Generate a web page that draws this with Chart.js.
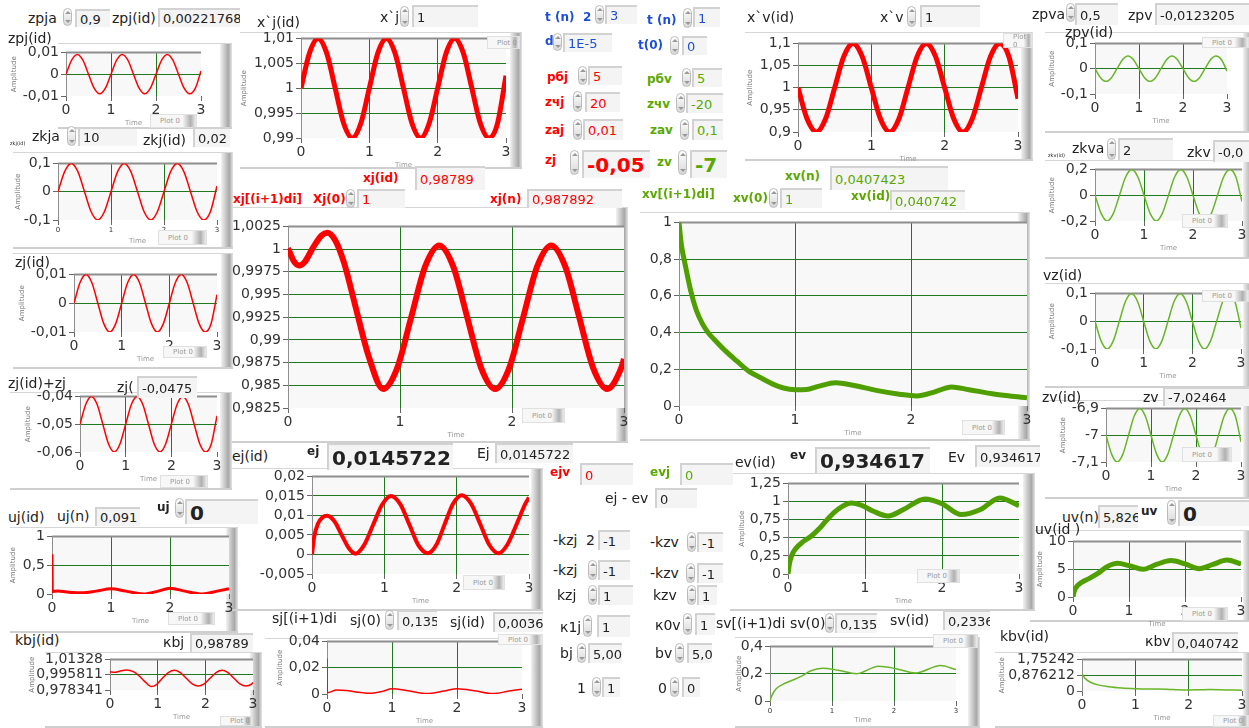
<!DOCTYPE html>
<html>
<head>
<meta charset="utf-8">
<script src="https://cdn.jsdelivr.net/npm/chart.js@4.4.1/dist/chart.umd.min.js"></script>
<style>
body{margin:0;background:#fff;overflow:hidden}
#panel{position:relative;width:1249px;height:728px;font-family:'DejaVu Sans',Verdana,sans-serif;color:#222;overflow:hidden}
.lb{position:absolute;font-size:14px;line-height:18px;white-space:nowrap;z-index:4}
.bx{position:absolute;background:#f4f4f4;border-top:2px solid #d2d2d2;border-left:2px solid #d2d2d2;box-sizing:border-box;font-size:13px;padding-left:3px;overflow:hidden;white-space:nowrap;z-index:4;display:flex;align-items:center}
.sp{position:absolute;width:9px;border:1px solid #bbb;border-radius:5px;background:linear-gradient(#fff,#d8d8d8);box-sizing:border-box;z-index:4}
.sp:before,.sp:after{content:'';position:absolute;left:1px;border-left:3px solid transparent;border-right:3px solid transparent}
.sp:before{top:2px;border-bottom:3px solid #999}
.sp:after{bottom:2px;border-top:3px solid #999}
.pn{position:absolute;border-top:1px solid #d6d6d6;border-bottom:2px solid #cfcfcf;box-sizing:border-box;z-index:1}
.pn:after{content:'';position:absolute;right:0;top:0;bottom:0;width:12px;background:linear-gradient(to right,#f2f2f2,#a8a8a8 70%,#e6e6e6)}
.lg{position:absolute;font-size:7px;color:#999;padding-left:9px;box-sizing:border-box;background:linear-gradient(to right,#f7f7f7 70%,#b0b0b0 88%,#eee);border:1px solid #e0e0e0;z-index:3;display:flex;align-items:center}
canvas{position:absolute;z-index:2}
.r{color:#ff0000}.g{color:#5aa800}.b{color:#1c4fd6}
.k{font-weight:bold;font-size:12px}
.big{font-size:20px;font-weight:bold}
.tiny{font-size:5px}
</style>
</head>
<body>
<div id="panel"></div>
<script>
// time axis shared by the sine-shaped plots
const t8 = [0, 0.125, 0.25, 0.375, 0.5, 0.625, 0.75, 0.875, 1, 1.125, 1.25, 1.375, 1.5, 1.625, 1.75, 1.875, 2, 2.125, 2.25, 2.375, 2.5, 2.625, 2.75, 2.875, 3];
const xTicks = [0, 1, 2, 3];

const zpjY = [0, 0.0064, 0.009, 0.0064, 0, -0.0064, -0.009, -0.0064, 0, 0.0064, 0.009, 0.0064, 0, -0.0064, -0.009, -0.0064, 0, 0.0064, 0.009, 0.0064, 0, -0.0064, -0.009, -0.0064, 0.0015];
const xjdY = [1, 1.0071, 1.01, 1.0071, 1, 0.9929, 0.99, 0.9929, 1, 1.0071, 1.01, 1.0071, 1, 0.9929, 0.99, 0.9929, 1, 1.0071, 1.01, 1.0071, 1, 0.9929, 0.99, 0.9929, 1.0025];
const zkjY = [0, 0.071, 0.1, 0.071, 0, -0.071, -0.1, -0.071, 0, 0.071, 0.1, 0.071, 0, -0.071, -0.1, -0.071, 0, 0.071, 0.1, 0.071, 0, -0.071, -0.1, -0.071, 0.02];
const zjY = [0, 0.0071, 0.01, 0.0071, 0, -0.0071, -0.01, -0.0071, 0, 0.0071, 0.01, 0.0071, 0, -0.0071, -0.01, -0.0071, 0, 0.0071, 0.01, 0.0071, 0, -0.0071, -0.01, -0.0071, 0.003];
const zjzY = [-0.05, -0.0429, -0.04, -0.0429, -0.05, -0.0571, -0.06, -0.0571, -0.05, -0.0429, -0.04, -0.0429, -0.05, -0.0571, -0.06, -0.0571, -0.05, -0.0429, -0.04, -0.0429, -0.05, -0.0571, -0.06, -0.0571, -0.047];
const xvdY = [1, 0.9293, 0.9, 0.9293, 1, 1.0707, 1.1, 1.0707, 1, 0.9293, 0.9, 0.9293, 1, 1.0707, 1.1, 1.0707, 1, 0.9293, 0.9, 0.9293, 1, 1.0707, 1.1, 1.0707, 0.975];
const zpvY = [0, -0.0354, -0.05, -0.0354, 0, 0.0354, 0.05, 0.0354, 0, -0.0354, -0.05, -0.0354, 0, 0.0354, 0.05, 0.0354, 0, -0.0354, -0.05, -0.0354, 0, 0.0354, 0.05, 0.0354, -0.01];
const zkvY = [0, -0.141, -0.2, -0.141, 0, 0.141, 0.2, 0.141, 0, -0.141, -0.2, -0.141, 0, 0.141, 0.2, 0.141, 0, -0.141, -0.2, -0.141, 0, 0.141, 0.2, 0.141, -0.05];
const vzY = [0, -0.0707, -0.1, -0.0707, 0, 0.0707, 0.1, 0.0707, 0, -0.0707, -0.1, -0.0707, 0, 0.0707, 0.1, 0.0707, 0, -0.0707, -0.1, -0.0707, 0, 0.0707, 0.1, 0.0707, -0.025];
const zvY = [-7, -7.0707, -7.1, -7.0707, -7, -6.9293, -6.9, -6.9293, -7, -7.0707, -7.1, -7.0707, -7, -6.9293, -6.9, -6.9293, -7, -7.0707, -7.1, -7.0707, -7, -6.9293, -6.9, -6.9293, -7.025];

const ujX = [0, 0.005, 0.1, 0.25, 0.5, 0.75, 1, 1.25, 1.55, 1.8, 2, 2.25, 2.55, 2.8, 3];
const ujY = [0.69, 0.045, 0.05, 0.035, 0.02, 0.05, 0.09, 0.05, 0.0, 0.05, 0.1, 0.05, 0.0, 0.05, 0.09];
const kbjX = [0, 0.1, 0.2, 0.35, 0.5, 0.6, 0.72, 0.87, 0.975, 1.1, 1.225, 1.35, 1.475, 1.6, 1.725, 1.85, 1.975, 2.1, 2.225, 2.35, 2.475, 2.6, 2.725, 2.85, 2.975, 3];
const kbjY = [0.999, 0.9985, 0.9998, 1.0012, 0.999, 0.995, 0.9885, 0.9822, 0.9845, 0.9917, 0.9981, 1.0008, 0.9981, 0.9917, 0.9853, 0.9828, 0.9853, 0.9917, 0.9981, 1.0008, 0.9981, 0.9917, 0.9853, 0.9828, 0.9853, 0.987];
const xjX = [0, 0.05, 0.1, 0.15, 0.225, 0.3, 0.35, 0.42, 0.5, 0.6, 0.725, 0.85, 0.975, 1.1, 1.225, 1.35, 1.475, 1.6, 1.725, 1.85, 1.975, 2.1, 2.225, 2.35, 2.475, 2.6, 2.725, 2.85, 2.975, 3];
const xjY = [1.0001, 0.9987, 0.9982, 0.9986, 1.0002, 1.0015, 1.0018, 1.001, 0.9985, 0.9938, 0.988, 0.9846, 0.9869, 0.9925, 0.9981, 1.0004, 0.9981, 0.9925, 0.9869, 0.9846, 0.9869, 0.9925, 0.9981, 1.0004, 0.9981, 0.9925, 0.9869, 0.9846, 0.9869, 0.9879];
const xvX = [0, 0.02, 0.05, 0.1, 0.15, 0.2, 0.25, 0.3, 0.4, 0.5, 0.6, 0.7, 0.8, 0.9, 1, 1.1, 1.2, 1.35, 1.5, 1.7, 1.9, 2.05, 2.2, 2.35, 2.5, 2.7, 2.85, 3];
const xvY = [1, 0.88, 0.78, 0.63, 0.52, 0.45, 0.4, 0.365, 0.3, 0.244, 0.19, 0.155, 0.122, 0.098, 0.089, 0.09, 0.107, 0.127, 0.113, 0.085, 0.064, 0.055, 0.076, 0.104, 0.089, 0.067, 0.055, 0.045];
const ejX = [0, 0.03, 0.08, 0.14, 0.21, 0.31, 0.41, 0.51, 0.6, 0.72, 0.845, 0.97, 1.09, 1.22, 1.345, 1.47, 1.6, 1.72, 1.835, 1.95, 2.07, 2.2, 2.325, 2.45, 2.58, 2.7, 2.83, 2.95, 3];
const ejY = [0, 0.0045, 0.0078, 0.0094, 0.0099, 0.0085, 0.005, 0.0016, 0.0002, 0.0024, 0.0076, 0.0128, 0.015, 0.0129, 0.0077, 0.0024, 0.0003, 0.0025, 0.0078, 0.013, 0.0152, 0.013, 0.0078, 0.0025, 0.0003, 0.0025, 0.0078, 0.013, 0.0146];
const sjX = [0, 0.005, 0.15, 0.3, 0.45, 0.65, 0.85, 1, 1.25, 1.53, 1.8, 2, 2.3, 2.55, 2.8, 3];
const sjY = [0.027, 0.001, 0.003, 0.0027, 0.0015, 0.0005, 0.002, 0.004, 0.0025, 0.0003, 0.0022, 0.004, 0.0022, 0.0003, 0.0022, 0.0037];
const evX = [0, 0.02, 0.05, 0.1, 0.2, 0.3, 0.4, 0.5, 0.6, 0.7, 0.82, 0.95, 1.1, 1.3, 1.5, 1.78, 2.0, 2.25, 2.5, 2.75, 3];
const evY = [0, 0.15, 0.26, 0.35, 0.45, 0.52, 0.62, 0.74, 0.85, 0.93, 0.98, 0.95, 0.87, 0.8, 0.89, 1.035, 0.97, 0.82, 0.89, 1.05, 0.944];
const uvX = [0, 0.02, 0.06, 0.15, 0.3, 0.45, 0.6, 0.8, 1, 1.25, 1.5, 1.75, 2, 2.25, 2.5, 2.75, 3];
const uvY = [0, 1, 1.8, 2.6, 3.4, 4.3, 5.4, 6.05, 5.65, 5, 5.9, 6.55, 5.95, 5.1, 5.85, 6.65, 5.95];
const svX = [0, 0.03, 0.1, 0.2, 0.35, 0.5, 0.65, 0.85, 1.1, 1.4, 1.75, 2.05, 2.35, 2.75, 3];
const svY = [0, 0.04, 0.09, 0.12, 0.15, 0.18, 0.22, 0.24, 0.225, 0.2, 0.255, 0.235, 0.205, 0.26, 0.23];
const kbvX = [0, 0.05, 0.15, 0.3, 0.5, 0.75, 1, 1.2, 1.4, 1.7, 2, 2.2, 2.4, 2.7, 3];
const kbvY = [0.96, 0.72, 0.5, 0.34, 0.24, 0.17, 0.13, 0.11, 0.11, 0.08, 0.06, 0.07, 0.08, 0.06, 0.04];

// y tick values and their labels
const tZpj = [-0.01, 0, 0.01], lZpj = ['-0,01', '0', '0,01'];
const tXjd = [0.99, 0.995, 1, 1.005, 1.01], lXjd = ['0,99', '0,995', '1', '1,005', '1,01'];
const tZkj = [-0.1, 0, 0.1], lZkj = ['-0,1', '0', '0,1'];
const tZjz = [-0.06, -0.05, -0.04], lZjz = ['-0,06', '-0,05', '-0,04'];
const tUj = [0, 0.5, 1], lUj = ['0', '0,5', '1'];
const tKbj = [0.978341, 0.995811, 1.01328], lKbj = ['0,978341', '0,995811', '1,01328'];
const tXj = [0.9825, 0.985, 0.9875, 0.99, 0.9925, 0.995, 0.9975, 1, 1.0025];
const lXj = ['0,9825', '0,985', '0,9875', '0,99', '0,9925', '0,995', '0,9975', '1', '1,0025'];
const tXv = [0, 0.2, 0.4, 0.6, 0.8, 1], lXv = ['0', '0,2', '0,4', '0,6', '0,8', '1'];
const tXvd = [0.9, 0.95, 1, 1.05, 1.1], lXvd = ['0,9', '0,95', '1', '1,05', '1,1'];
const tZkv = [-0.2, 0, 0.2], lZkv = ['-0,2', '0', '0,2'];
const tZv = [-7.1, -7, -6.9], lZv = ['-7,1', '-7', '-6,9'];
const tUv = [0, 5, 10], lUv = ['0', '5', '10'];
const tEj = [-0.005, 0, 0.005, 0.01, 0.015, 0.02], lEj = ['-0,005', '0', '0,005', '0,01', '0,015', '0,02'];
const tSj = [0, 0.02, 0.04], lSj = ['0', '0,02', '0,04'];
const tEv = [0, 0.25, 0.5, 0.75, 1, 1.25], lEv = ['0', '0,25', '0,5', '0,75', '1', '1,25'];
const tSv = [0, 0.2, 0.4], lSv = ['0', '0,2', '0,4'];
const tKbv = [0, 0.876212, 1.75242], lKbv = ['0', '0,876212', '1,75242'];

const RED = '#ff0000', GREEN = '#4f9f00', LGREEN = '#68b628', GRID = '#1f7a1f';
const FONT = "'DejaVu Sans', Verdana, sans-serif";
const root = document.getElementById('panel');

function add(cls, css, text) {
    const d = document.createElement('div');
    d.className = cls;
    Object.assign(d.style, css);
    if (text !== undefined) d.textContent = text;
    root.appendChild(d);
    return d;
}
function lab(x, yc, s, cls) {
    add('lb ' + (cls || ''), { left: x + 'px', top: (yc - 9) + 'px' }, s);
}
function box(x1, x2, y1, y2, s, cls) {
    add('bx ' + (cls || ''), { left: x1 + 'px', top: y1 + 'px', width: (x2 - x1) + 'px', height: (y2 - y1) + 'px' }, s);
}
function spin(x, y1, y2) {
    add('sp', { left: x + 'px', top: y1 + 'px', height: (y2 - y1) + 'px' });
}
function frame(x, y, w, h) {
    add('pn', { left: x + 'px', top: y + 'px', width: w + 'px', height: h + 'px' });
}
function legend(x1, x2, y1, y2) {
    add('lg', { left: x1 + 'px', top: y1 + 'px', width: (x2 - x1) + 'px', height: (y2 - y1) + 'px' }, 'Plot 0');
}

const lvPlot = {
    id: 'lvPlot',
    beforeDraw(chart) {
        const a = chart.chartArea, c = chart.ctx;
        c.save();
        c.fillStyle = '#f8f8f8';
        c.fillRect(a.left, a.top, a.right - a.left, a.bottom - a.top);
        c.restore();
    },
    beforeDatasetsDraw(chart) {
        const a = chart.chartArea, c = chart.ctx;
        c.save();
        c.strokeStyle = '#8e8e8e';
        c.lineWidth = 2;
        c.beginPath();
        c.moveTo(a.left, a.top);
        c.lineTo(a.right, a.top);
        c.stroke();
        c.restore();
    }
};

// a: plot area in page pixels, o: data and look
function graph(a, o) {
    const yW = o.yW, xH = o.xH || 31, pT = 10, pR = 10;
    const cv = document.createElement('canvas');
    cv.width = a.w + yW + pR;
    cv.height = a.h + pT + xH;
    cv.style.left = (a.l - yW) + 'px';
    cv.style.top = (a.t - pT) + 'px';
    root.appendChild(cv);
    const yMin = o.yt[0], yMax = o.yt[o.yt.length - 1];
    const edge = (lo, hi) => c => (c.tick && (c.tick.value === lo || c.tick.value === hi)) ? 'rgba(0,0,0,0)' : GRID;
    new Chart(cv, {
        type: 'line',
        data: {
            datasets: [{
                data: o.xs.map((x, i) => ({ x: x, y: o.ys[i] })),
                borderColor: o.color,
                borderWidth: o.lw || 1.5,
                pointRadius: 0,
                cubicInterpolationMode: 'monotone',
                fill: false
            }]
        },
        options: {
            responsive: false,
            animation: false,
            events: [],
            layout: { padding: { top: pT, right: pR, left: 0, bottom: 0 } },
            plugins: { legend: { display: false }, tooltip: { enabled: false } },
            scales: {
                x: {
                    type: 'linear', min: 0, max: 3,
                    afterFit: s => { s.height = xH; },
                    afterBuildTicks: s => { s.ticks = xTicks.map(v => ({ value: v })); },
                    ticks: { callback: v => String(v), font: { family: FONT, size: o.xFs || 14 }, color: '#333', maxRotation: 0, autoSkip: false, padding: 1 },
                    grid: { color: edge(0, 3), tickColor: '#666', tickLength: 5 },
                    border: { display: false },
                    title: { display: true, text: 'Time', font: { family: FONT, size: 7 }, color: '#999', padding: 0 }
                },
                y: {
                    type: 'linear', min: yMin, max: yMax,
                    afterFit: s => { s.width = yW; },
                    afterBuildTicks: s => { s.ticks = o.yt.map(v => ({ value: v })); },
                    ticks: { callback: (v, i) => o.yl[i], font: { family: FONT, size: 14 }, color: '#333', autoSkip: false, padding: 2 },
                    grid: { color: edge(yMin, yMax), tickColor: '#666', tickLength: 5 },
                    border: { display: true, color: '#8e8e8e', width: 1 },
                    title: { display: o.amp !== false, text: 'Amplitude', font: { family: FONT, size: 7 }, color: '#777', padding: 2 }
                }
            }
        },
        plugins: [lvPlot]
    });
}

// graph frames
[[58, 43, 174, 86], [240, 32, 282, 137], [13, 152, 220, 97], [13, 253, 220, 116], [10, 392, 222, 98],
 [10, 527, 228, 106], [45, 652, 217, 76], [232, 207, 396, 236], [640, 212, 390, 229], [745, 32, 288, 129],
 [1045, 32, 210, 101], [1045, 160, 210, 99], [1045, 283, 210, 105], [1045, 400, 210, 99], [1030, 530, 225, 92],
 [995, 652, 260, 76], [232, 468, 311, 143], [265, 638, 278, 90], [730, 473, 305, 138], [735, 637, 245, 91]
].forEach(f => frame(f[0], f[1], f[2], f[3]));

graph({ l: 66, t: 52, w: 135, h: 44 }, { yW: 58, xs: t8, ys: zpjY, yt: tZpj, yl: lZpj, color: RED });
graph({ l: 301, t: 38, w: 205, h: 100 }, { yW: 63, xs: t8, ys: xjdY, yt: tXjd, yl: lXjd, color: RED, lw: 5 });
graph({ l: 58, t: 163, w: 159, h: 57 }, { yW: 46, xH: 25, xFs: 7, xs: t8, ys: zkjY, yt: tZkj, yl: lZkj, color: RED });
graph({ l: 74, t: 274, w: 143, h: 58 }, { yW: 58, xs: t8, ys: zjY, yt: tZpj, yl: lZpj, color: RED });
graph({ l: 80, t: 396, w: 137, h: 56 }, { yW: 58, xs: t8, ys: zjzY, yt: tZjz, yl: lZjz, color: RED });
graph({ l: 52, t: 536, w: 177, h: 58 }, { yW: 45, xs: ujX, ys: ujY, yt: tUj, yl: lUj, color: RED, lw: 3 });
graph({ l: 110, t: 659, w: 143, h: 31 }, { yW: 84, xs: kbjX, ys: kbjY, yt: tKbj, yl: lKbj, color: RED });
graph({ l: 288, t: 226, w: 336, h: 182 }, { yW: 60, amp: false, xs: xjX, ys: xjY, yt: tXj, yl: lXj, color: RED, lw: 6 });
graph({ l: 679, t: 222, w: 348, h: 184 }, { yW: 37, amp: false, xs: xvX, ys: xvY, yt: tXv, yl: lXv, color: GREEN, lw: 5 });
graph({ l: 798, t: 43, w: 220, h: 89 }, { yW: 54, xs: t8, ys: xvdY, yt: tXvd, yl: lXvd, color: RED, lw: 5 });
graph({ l: 1095, t: 43, w: 132, h: 51 }, { yW: 49, xs: t8, ys: zpvY, yt: tZkj, yl: lZkj, color: LGREEN });
graph({ l: 1095, t: 169, w: 147, h: 52 }, { yW: 49, xs: t8, ys: zkvY, yt: tZkv, yl: lZkv, color: LGREEN });
graph({ l: 1095, t: 293, w: 146, h: 56 }, { yW: 49, xs: t8, ys: vzY, yt: tZkj, yl: lZkj, color: LGREEN });
graph({ l: 1106, t: 408, w: 135, h: 54 }, { yW: 49, xs: t8, ys: zvY, yt: tZv, yl: lZv, color: LGREEN });
graph({ l: 1073, t: 541, w: 168, h: 56 }, { yW: 39, xs: uvX, ys: uvY, yt: tUv, yl: lUv, color: GREEN, lw: 5 });
graph({ l: 312, t: 476, w: 217, h: 98 }, { yW: 54, amp: false, xs: ejX, ys: ejY, yt: tEj, yl: lEj, color: RED, lw: 4 });
graph({ l: 327, t: 641, w: 195, h: 53 }, { yW: 53, xs: sjX, ys: sjY, yt: tSj, yl: lSj, color: RED });
graph({ l: 788, t: 483, w: 231, h: 91 }, { yW: 52, xs: evX, ys: evY, yt: tEv, yl: lEv, color: GREEN, lw: 5 });
graph({ l: 770, t: 646, w: 186, h: 55 }, { yW: 37, xH: 23, xFs: 7, xs: svX, ys: svY, yt: tSv, yl: lSv, color: LGREEN });
graph({ l: 1082, t: 659, w: 160, h: 32 }, { yW: 86, xs: kbvX, ys: kbvY, yt: tKbv, yl: lKbv, color: LGREEN });

// "Plot 0" legends
[[150, 197, 114, 128], [487, 520, 36, 49], [158, 207, 230, 245], [163, 207, 346, 358], [160, 208, 475, 488],
 [168, 215, 612, 625], [220, 253, 716, 726], [522, 565, 408, 423], [962, 1005, 420, 435], [1003, 1033, 33, 48],
 [1202, 1249, 37, 48], [1182, 1228, 214, 228], [1202, 1249, 290, 302], [1182, 1232, 447, 462], [1182, 1228, 607, 621],
 [463, 505, 575, 590], [498, 543, 634, 645], [917, 960, 569, 583], [933, 978, 634, 648], [1213, 1249, 715, 727]
].forEach(g => legend(g[0], g[1], g[2], g[3]));

// top left
lab(28, 18, 'zpja'); spin(63, 8, 26); box(75, 110, 9, 27, '0,9');
lab(112, 18, 'zpj(id)'); box(158, 240, 8, 27, '0,00221768');
lab(8, 38, 'zpj(id)');
lab(257, 22, 'x`j(id)'); lab(380, 17, 'x`j'); spin(400, 6, 27); box(412, 478, 5, 27, '1');

// parameter block
lab(545, 17, 't (n)', 'b k'); lab(583, 17, '2', 'b k'); spin(595, 5, 24); box(605, 637, 5, 24, '3', 'b');
lab(647, 20, 't (n)', 'b k'); spin(683, 8, 28); box(693, 720, 7, 27, '1', 'b');
lab(545, 41, 'd', 'b k'); spin(553, 33, 51); box(563, 612, 33, 52, '1E-5', 'b');
lab(638, 45, 't(0)', 'b k'); spin(670, 36, 55); box(682, 707, 36, 55, '0', 'b');
lab(547, 77, 'рбj', 'r k'); spin(578, 66, 85); box(588, 622, 66, 85, '5', 'r');
lab(647, 79, 'рбv', 'g k'); spin(682, 68, 87); box(692, 722, 68, 87, '5', 'g');
lab(545, 102, 'zчj', 'r k'); spin(573, 91, 112); box(585, 620, 92, 112, '20', 'r');
lab(647, 104, 'zчv', 'g k'); spin(676, 93, 113); box(686, 723, 93, 113, '-20', 'g');
lab(545, 130, 'zaj', 'r k'); spin(573, 119, 140); box(583, 623, 119, 140, '0,01', 'r');
lab(650, 130, 'zav', 'g k'); spin(680, 119, 140); box(692, 723, 119, 140, '0,1', 'g');
lab(545, 160, 'zj', 'r k'); spin(570, 150, 175); box(582, 650, 150, 178, '-0,05', 'r big');
lab(657, 162, 'zv', 'g k'); spin(678, 150, 175); box(690, 727, 150, 178, '-7', 'g big');

// top right
lab(747, 17, 'x`v(id)'); lab(880, 17, 'x`v'); spin(907, 6, 27); box(920, 980, 5, 27, '1');
lab(1032, 14, 'zpva'); spin(1066, 3, 22); box(1075, 1118, 3, 25, '0,5');
lab(1128, 15, 'zpv'); box(1155, 1249, 3, 25, '-0,0123205');
lab(1065, 32, 'zpv(id)');
lab(1048, 155, 'zkv(id)', 'tiny'); lab(1072, 148, 'zkva'); spin(1107, 138, 160); box(1118, 1173, 138, 160, '2');
lab(1187, 152, 'zkv'); box(1213, 1249, 140, 162, '-0,0');
lab(1043, 275, 'vz(id)');
lab(1042, 397, 'zv(id)'); lab(1143, 397, 'zv'); box(1163, 1249, 387, 406, '-7,02464');
lab(1062, 517, 'uv(n)'); box(1098, 1138, 505, 528, '5,826');
lab(1141, 511, 'uv', 'k'); spin(1167, 500, 525); box(1178, 1249, 500, 526, '0', 'big');
lab(1035, 529, 'uv(id )');

// left column
lab(10, 143, 'zkj(id)', 'tiny'); lab(32, 136, 'zkja'); spin(67, 126, 146); box(78, 137, 127, 146, '10');
lab(143, 140, 'zkj(id)'); box(193, 230, 127, 147, '0,02');
lab(15, 262, 'zj(id)');
lab(8, 383, 'zj(id)+zj'); lab(117, 387, 'zj('); box(137, 197, 376, 398, '-0,0475');
lab(8, 517, 'uj(id)'); lab(57, 516, 'uj(n)'); box(95, 140, 507, 526, '0,091');
lab(157, 507, 'uj', 'k'); spin(175, 498, 518); box(185, 258, 499, 524, '0', 'big');
lab(15, 640, 'kbj(id)'); lab(163, 642, 'кbj'); box(190, 253, 633, 652, '0,98789');

// big graph headers
lab(363, 178, 'xj(id)', 'r k'); box(415, 485, 166, 190, '0,98789', 'r');
lab(233, 199, 'xj[(i+1)di]', 'r k'); lab(313, 199, 'Xj(0)', 'r k'); spin(346, 189, 208); box(357, 405, 189, 208, '1', 'r');
lab(490, 199, 'xj(n)', 'r k'); box(527, 622, 189, 208, '0,987892', 'r');
lab(785, 176, 'xv(n)', 'g k'); box(830, 948, 166, 190, '0,0407423', 'g');
lab(642, 194, 'xv[(i+1)di]', 'g k'); lab(733, 198, 'xv(0)', 'g k'); spin(769, 188, 208); box(780, 822, 188, 208, '1', 'g');
lab(851, 196, 'xv(id)', 'g k'); box(890, 965, 190, 210, '0,040742', 'g');

// error block
lab(232, 456, 'ej(id)'); lab(307, 451, 'ej', 'k'); box(327, 453, 443, 470, '0,0145722', 'big');
lab(477, 453, 'Ej'); box(495, 573, 443, 463, '0,0145722');
lab(550, 472, 'ejv', 'r k'); box(580, 633, 463, 485, '0', 'r');
lab(650, 472, 'evj', 'g k'); box(680, 733, 463, 485, '0', 'g');
lab(605, 498, 'ej - ev'); box(655, 697, 488, 508, '0');
lab(553, 540, '-kzj'); lab(586, 540, '2'); box(598, 630, 530, 550, '-1');
lab(650, 542, '-kzv'); spin(687, 532, 552); box(697, 723, 532, 552, '-1');
lab(553, 570, '-kzj'); spin(588, 560, 580); box(598, 630, 560, 580, '-1');
lab(650, 573, '-kzv'); spin(686, 563, 583); box(697, 723, 563, 583, '-1');
lab(557, 595, 'kzj'); spin(588, 585, 605); box(598, 633, 585, 605, '1');
lab(653, 595, 'kzv'); spin(687, 585, 605); box(697, 717, 585, 605, '1');
lab(560, 627, 'к1j'); spin(583, 615, 637); box(597, 630, 615, 637, '1');
lab(655, 625, 'к0v'); spin(683, 613, 635); box(695, 715, 613, 635, '1');
lab(560, 653, 'bj'); spin(577, 643, 663); box(588, 622, 643, 663, '5,00');
lab(655, 653, 'bv'); spin(675, 643, 663); box(687, 712, 643, 663, '5,0');
lab(577, 688, '1'); spin(592, 677, 697); box(602, 620, 677, 697, '1');
lab(658, 688, '0'); spin(670, 677, 697); box(682, 700, 677, 697, '0');
lab(272, 618, 'sj[(i+1)di'); lab(350, 620, 'sj(0)'); spin(385, 610, 630); box(397, 437, 610, 630, '0,135');
lab(450, 622, 'sj(id)'); box(493, 543, 612, 632, '0,0036');

// ev block
lab(735, 462, 'ev(id)'); lab(790, 455, 'ev', 'k'); box(815, 930, 447, 473, '0,934617', 'big');
lab(948, 457, 'Ev'); box(975, 1040, 445, 467, '0,934617');
lab(716, 623, 'sv[(i+1)di'); lab(790, 623, 'sv(0)'); spin(825, 613, 633); box(835, 877, 613, 633, '0,135');
lab(890, 620, 'sv(id)'); box(943, 990, 610, 630, '0,2336');
lab(1000, 636, 'kbv(id)'); lab(1145, 641, 'кbv'); box(1172, 1238, 632, 652, '0,040742');
</script>
</body>
</html>
